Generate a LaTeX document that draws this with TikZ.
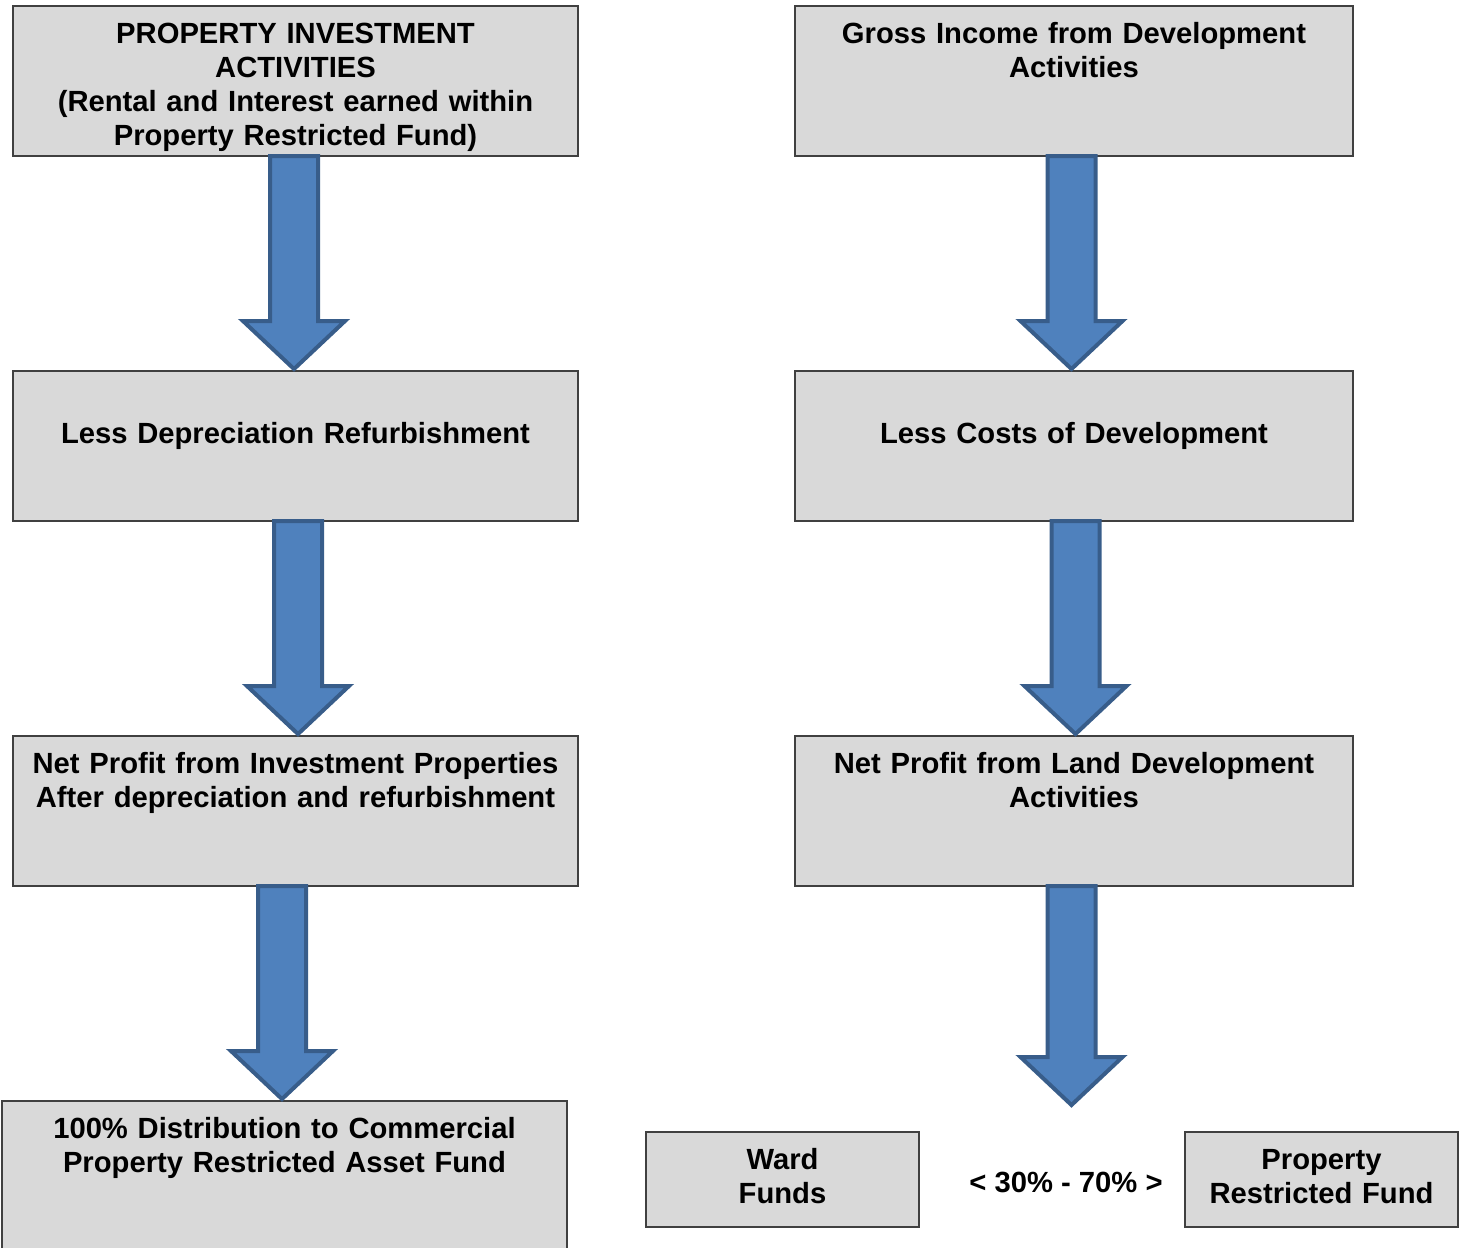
\documentclass[tikz,border=0pt]{standalone}
\usepackage{fontspec}
\setmainfont{Liberation Sans}
\usetikzlibrary{positioning,calc}
\definecolor{boxgray}{RGB}{217,217,217}
\definecolor{boxline}{RGB}{64,64,64}
\definecolor{flowblue}{RGB}{79,129,189}
\definecolor{flowline}{RGB}{56,93,138}

% down block arrow: xshift, start anchor, tip anchor
\newcommand{\flowarrow}[3]{%
  \draw[flow] let \p1=($(#2)+(#1,0)$), \p2=(#3) in
    (\x1-12pt,\y1) -- (\x1-12pt,\y2+25pt) -- (\x1-25.5pt,\y2+25pt) -- (\x1,\y2+1pt)
    -- (\x1+25.5pt,\y2+25pt) -- (\x1+12pt,\y2+25pt) -- (\x1+12pt,\y1) -- cycle;}

\begin{document}
\begin{tikzpicture}[
    x=0.5pt, y=-0.5pt,
    node distance=107.5pt,
    font=\bfseries\fontsize{14.6pt}{17pt}\selectfont,
    box/.style={draw=boxline, fill=boxgray, line width=0.75pt, align=center, inner xsep=0pt, inner ysep=0pt, outer sep=0pt, text width=282.5pt, text height=18.7pt, text depth=56.3pt},
    lowtext/.style={text height=36.2pt, text depth=38.8pt},
    small/.style={text width=136.5pt, text depth=28.8pt},
    flow/.style={draw=flowline, fill=flowblue, line width=2pt}
]
    \useasboundingbox (0,0) rectangle (1461,1247);

    % left column
    \node[box, anchor=north west] (l1) at (13,6) {PROPERTY INVESTMENT\\ACTIVITIES\\(Rental and Interest earned within\\Property Restricted Fund)};
    \node[box, lowtext, below=of l1] (l2) {Less Depreciation Refurbishment};
    \node[box, below=of l2] (l3) {Net Profit from Investment Properties\\After depreciation and refurbishment};
    \node[box, below=of l3, xshift=-5.5pt] (l4) {100\% Distribution to Commercial\\Property Restricted Asset Fund};

    % right column
    \node[box, text width=279pt, anchor=north west] (r1) at (795,6) {Gross Income from Development\\Activities};
    \node[box, lowtext, text width=279pt, below=of r1] (r2) {Less Costs of Development};
    \node[box, text width=279pt, below=of r2] (r3) {Net Profit from Land Development\\Activities};
    \coordinate (r3tip) at (1072,1107);

    \node[box, small, anchor=north west] (ward) at (646,1132) {Ward\\Funds};
    \node[box, small, anchor=north west] (prf) at (1185,1132) {Property\\Restricted Fund};
    \node (ratio) at (1066,1182) {< 30\% - 70\% >};

    \flowarrow{-1.5}{l1.south}{l2.north}
    \flowarrow{2.5}{l2.south}{l3.north}
    \flowarrow{-13.5}{l3.south}{l4.north}
    \flowarrow{-2.5}{r1.south}{r2.north}
    \flowarrow{1.5}{r2.south}{r3.north}
    \flowarrow{-2.5}{r3.south}{r3tip}
\end{tikzpicture}
\end{document}
